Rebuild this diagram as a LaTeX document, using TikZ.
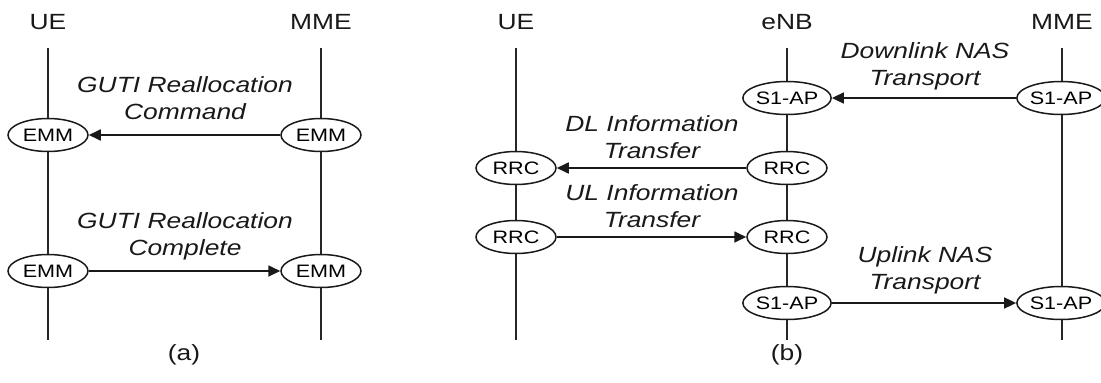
\documentclass[tikz,border=0pt]{standalone}
\usepackage{fontspec}
\setmainfont{Liberation Sans}[FakeStretch=1.2]
\usetikzlibrary{shapes.geometric,arrows.meta}
\begin{document}
\begin{tikzpicture}[x=1pt,y=-1pt,
  life/.style={line width=2pt, draw=black!85},
  proto/.style={ellipse, draw=black!90, line width=1.5pt, fill=white,
    minimum width=80pt, minimum height=33pt, inner sep=0pt,
    font=\fontsize{18}{20}\selectfont},
  msg/.style={line width=1.7pt, draw=black!90, -{Triangle[length=12pt,width=11pt]}},
  lbl/.style={align=center, text=black!90, font=\fontsize{22}{27}\selectfont\itshape},
  hdr/.style={text=black!90, font=\fontsize{22}{24}\selectfont}]
\useasboundingbox (0,0) rectangle (1101,383);

% ---- panel (a)
\node[hdr] (hUEa) at (48,22) {UE};
\node[hdr] (hMMEa) at (321,22) {MME};
\coordinate (uaT) at (48,48);  \coordinate (uaB) at (48,340);
\coordinate (maT) at (321,48); \coordinate (maB) at (321,340);
\draw[life] (uaT) -- (uaB);
\draw[life] (maT) -- (maB);
\node[proto] (ue1) at (48,135) {EMM};
\node[proto] (mm1) at (321,135) {EMM};
\node[proto] (ue2) at (48,271) {EMM};
\node[proto] (mm2) at (321,271) {EMM};
\draw[msg] (mm1) -- (ue1);
\draw[msg] (ue2) -- (mm2);
\node[lbl] (l1) at (185,98) {GUTI Reallocation\\Command};
\node[lbl] (l2) at (185,236) {GUTI Reallocation\\Complete};
\node[hdr] (capa) at (184,355) {(a)};

% ---- panel (b)
\node[hdr] (hUEb) at (516,22) {UE};
\node[hdr] (hENB) at (787,22) {eNB};
\node[hdr] (hMMEb) at (1062,22) {MME};
\coordinate (ubT) at (516,48);  \coordinate (ubB) at (516,340);
\coordinate (ebT) at (787,48);  \coordinate (ebB) at (787,340);
\coordinate (mbT) at (1062,48); \coordinate (mbB) at (1062,340);
\draw[life] (ubT) -- (ubB);
\draw[life] (ebT) -- (ebB);
\draw[life] (mbT) -- (mbB);
\node[proto] (e1) at (787,98) {S1-AP};
\node[proto] (m1) at (1061,98) {S1-AP};
\node[proto] (e2) at (787,168) {RRC};
\node[proto] (u2) at (516,168) {RRC};
\node[proto] (u3) at (516,237) {RRC};
\node[proto] (e3) at (787,237) {RRC};
\node[proto] (e4) at (787,303) {S1-AP};
\node[proto] (m4) at (1061,303) {S1-AP};
\draw[msg] (m1) -- (e1);
\draw[msg] (e2) -- (u2);
\draw[msg] (u3) -- (e3);
\draw[msg] (e4) -- (m4);
\node[lbl] (b1) at (925,66) {Downlink NAS\\Transport};
\node[lbl] (b2) at (652,137) {DL Information\\Transfer};
\node[lbl] (b3) at (652,206) {UL Information\\Transfer};
\node[lbl] (b4) at (925,270) {Uplink NAS\\Transport};
\node[hdr] (capb) at (787,355) {(b)};
\end{tikzpicture}
\end{document}
